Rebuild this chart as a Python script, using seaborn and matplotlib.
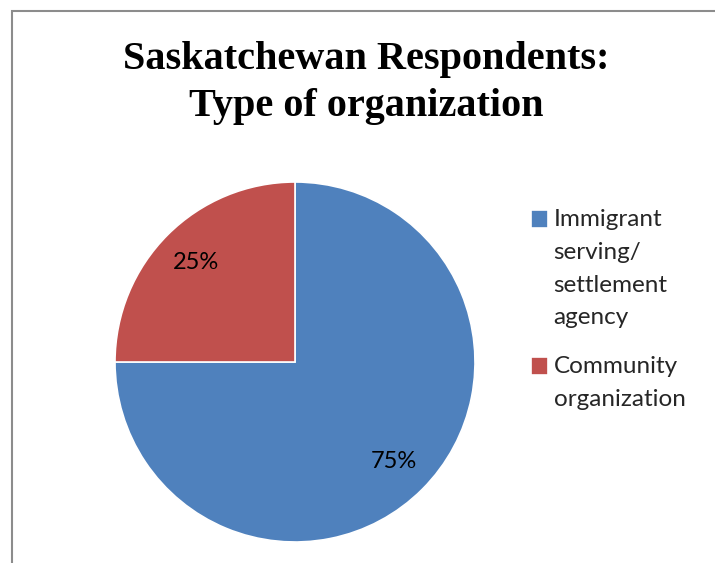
#!/usr/bin/env python3
import matplotlib
matplotlib.use('Agg')
import matplotlib.pyplot as plt
import matplotlib.patches as mpatches
import seaborn as sns

# chart data
categories = ['Immigrant\nserving/\nsettlement\nagency', 'Community\norganization']
shares = [75, 25]
colors = ['#4F81BD', '#C0504D']
title = 'Saskatchewan Respondents:\nType of organization'


def main(out_file='out.png'):
    sns.set_style('white')
    plt.rcParams['font.family'] = ['Lato', 'DejaVu Sans']

    fig = plt.figure(figsize=(7.15, 5.63), dpi=100, facecolor='white')

    # frame of the chart area (only top/left visible in the crop)
    fig.patches.append(mpatches.Rectangle((12 / 715, -0.1), 1.2, 1 - 11 / 563 + 0.1,
                                          transform=fig.transFigure, fill=False,
                                          edgecolor='#8c8c8c', linewidth=1.5))

    fig.text(366 / 715, 1 - 83 / 563, title, ha='center', va='center',
             fontsize=29, fontweight='bold', family='Liberation Serif',
             color='black', linespacing=1.36)

    # pie axes: centre ~ (295, 362), radius ~180 px
    ax = fig.add_axes([115 / 715, 21 / 563, 360 / 715, 360 / 563])
    wedges, _, autotexts = ax.pie(shares, colors=colors, startangle=90, counterclock=False,
                                  autopct='%1.0f%%', pctdistance=0.78,
                                  wedgeprops=dict(edgecolor='white', linewidth=1.2),
                                  textprops=dict(fontsize=17, color='black'))
    ax.set_xlim(-1, 1)
    ax.set_ylim(-1, 1)
    ax.set_aspect('equal')
    ax.axis('off')

    fs = 17.5
    leg = fig.legend(wedges, categories, loc='upper left',
                     bbox_to_anchor=(521 / 715, 1 - 199 / 563),
                     frameon=False, fontsize=fs, handlelength=0.72, handleheight=0.72,
                     handletextpad=0.22, labelspacing=1.12, borderaxespad=0)
    # legend squares sit beside the first line of each label
    line_h = 33 / 100 * 72  # px between lines -> points
    for text, handle, lab in zip(leg.get_texts(), leg.legend_handles, categories):
        text.set_linespacing(1.7)
        n = lab.count('\n') + 1
        handle.set_y(handle.get_y() + (n - 1) / 2 * line_h)

    plt.savefig(out_file, dpi=100, facecolor='white')


if __name__ == '__main__':
    main()
